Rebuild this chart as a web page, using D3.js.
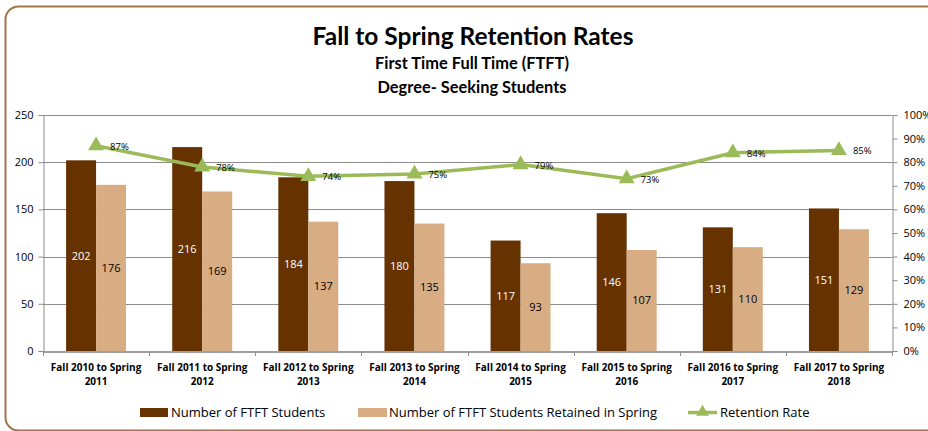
<!DOCTYPE html>
<html><head><meta charset="utf-8">
<script src="https://cdn.jsdelivr.net/npm/d3@7"></script>
<style>
html,body{margin:0;padding:0;background:#fff;}
svg{display:block;font-family:Lato,"Open Sans",sans-serif;}
</style></head>
<body><svg id="c" width="928" height="431"></svg>
<script>
const categories = ["Fall 2010 to Spring|2011","Fall 2011 to Spring|2012","Fall 2012 to Spring|2013","Fall 2013 to Spring|2014","Fall 2014 to Spring|2015","Fall 2015 to Spring|2016","Fall 2016 to Spring|2017","Fall 2017 to Spring|2018"];
const ftftStudents = [202,216,184,180,117,146,131,151];
const retainedStudents = [176,169,137,135,93,107,110,129];
const retentionRate = [0.87,0.78,0.74,0.75,0.79,0.73,0.84,0.85];
const leftTicks = [0,50,100,150,200,250];
const rightTicks = [0,0.1,0.2,0.3,0.4,0.5,0.6,0.7,0.8,0.9,1.0];
const seriesNames = ["Number of FTFT Students","Number of FTFT Students Retained in Spring","Retention Rate"];

const svg = d3.select("#c");
const L = 43, R = 892, T = 115, B = 351;
const dark = "#663300", light = "#D8AD84", green = "#9BBB59", grid = "#8c8c8c";

svg.append("rect").attr("x",5.5).attr("y",6.5).attr("width",1000).attr("height",424)
  .attr("rx",13).attr("fill","#fff").attr("stroke","#A5754A").attr("stroke-width",2);

// titles
svg.append("text").attr("x",473).attr("y",45).attr("text-anchor","middle")
  .attr("font-size",24.5).attr("font-weight","bold").attr("fill","#000").text("Fall to Spring Retention Rates");
svg.append("text").attr("x",472).attr("y",69).attr("text-anchor","middle")
  .attr("font-size",16.4).attr("font-weight","bold").text("First Time Full Time (FTFT)");
svg.append("text").attr("x",472).attr("y",93).attr("text-anchor","middle")
  .attr("font-size",16.4).attr("font-weight","bold").text("Degree- Seeking Students");

const x = d3.scaleBand().domain(categories).range([L,R]).paddingInner(0).paddingOuter(0);
const xs = d3.scaleBand().domain([0,1]).range([0,x.bandwidth()]).paddingInner(0).paddingOuter(0.77);
const y = d3.scaleLinear().domain([0,250]).range([B,T]);
const y2 = d3.scaleLinear().domain([0,1]).range([B,T]);

// gridlines
svg.append("g").selectAll("line").data(leftTicks.filter(d=>d>0)).join("line")
  .attr("x1",L).attr("x2",R).attr("y1",d=>Math.round(y(d))+0.5).attr("y2",d=>Math.round(y(d))+0.5)
  .attr("stroke",grid).attr("stroke-width",1.2);

// left axis
const gl = svg.append("g").attr("transform",`translate(${L+0.5},0)`)
  .call(d3.axisLeft(y).tickValues(leftTicks).tickSize(5).tickPadding(5));
gl.select(".domain").attr("stroke",grid);
gl.selectAll(".tick line").attr("stroke",grid);
gl.selectAll("text").attr("font-size",11).attr("fill","#000").attr("font-family","'Open Sans',sans-serif");

// right axis
const gr = svg.append("g").attr("transform",`translate(${R+0.5},0)`)
  .call(d3.axisRight(y2).tickValues(rightTicks).tickFormat(d3.format(".0%")).tickSize(5).tickPadding(6));
gr.select(".domain").attr("stroke",grid);
gr.selectAll(".tick line").attr("stroke",grid);
gr.selectAll("text").attr("font-size",11).attr("fill","#000").attr("font-family","'Open Sans',sans-serif");

// bars
const groups = svg.append("g").selectAll("g").data(categories).join("g")
  .attr("transform",d=>`translate(${x(d)},0)`);
groups.append("rect").attr("x",xs(0)).attr("width",xs.bandwidth())
  .attr("y",(d,i)=>y(ftftStudents[i])).attr("height",(d,i)=>B-y(ftftStudents[i])).attr("fill",dark);
groups.append("rect").attr("x",xs(1)).attr("width",xs.bandwidth())
  .attr("y",(d,i)=>y(retainedStudents[i])).attr("height",(d,i)=>B-y(retainedStudents[i])).attr("fill",light);
groups.append("text").attr("x",xs(0)+xs.bandwidth()/2).attr("y",(d,i)=>(y(ftftStudents[i])+B)/2+4)
  .attr("text-anchor","middle").attr("font-size",11).attr("fill","#fff").attr("font-family","'Open Sans',sans-serif")
  .text((d,i)=>ftftStudents[i]);
groups.append("text").attr("x",xs(1)+xs.bandwidth()/2).attr("y",(d,i)=>(y(retainedStudents[i])+B)/2+4)
  .attr("text-anchor","middle").attr("font-size",11).attr("fill","#000").attr("font-family","'Open Sans',sans-serif")
  .text((d,i)=>retainedStudents[i]);

// x axis
const gx = svg.append("g").attr("transform",`translate(0,${B+0.5})`)
  .call(d3.axisBottom(x).tickValues([]).tickSize(0));
gx.select(".domain").attr("stroke","#7f7f7f").attr("stroke-width",1.5);
const bounds = categories.map((d,i)=>x(d)).concat([R]);
svg.append("g").selectAll("line").data(bounds).join("line")
  .attr("x1",d=>Math.round(d)+0.5).attr("x2",d=>Math.round(d)+0.5).attr("y1",B).attr("y2",B+5).attr("stroke",grid);
const xl = svg.append("g").selectAll("text").data(categories).join("text")
  .attr("x",d=>x(d)+x.bandwidth()/2).attr("y",371).attr("text-anchor","middle")
  .attr("font-size",10).attr("font-weight","bold").attr("font-family","'Open Sans',sans-serif");
xl.append("tspan").attr("x",d=>x(d)+x.bandwidth()/2).text(d=>d.split("|")[0]);
xl.append("tspan").attr("x",d=>x(d)+x.bandwidth()/2).attr("dy",14).text(d=>d.split("|")[1]);

// line
const lineGen = d3.line().x((d,i)=>x(categories[i])+x.bandwidth()/2).y(d=>y2(d));
svg.append("path").datum(retentionRate).attr("d",lineGen).attr("fill","none")
  .attr("stroke",green).attr("stroke-width",3.5);
const tri = d3.symbol().type(d3.symbolTriangle).size(110);
svg.append("g").selectAll("path").data(retentionRate).join("path")
  .attr("transform",(d,i)=>`translate(${x(categories[i])+x.bandwidth()/2},${y2(d)})`)
  .attr("d",tri).attr("fill",green);
svg.append("g").selectAll("text").data(retentionRate).join("text")
  .attr("x",(d,i)=>x(categories[i])+x.bandwidth()/2+14).attr("y",d=>y2(d)+4)
  .attr("font-size",9.5).attr("fill","#000").attr("font-family","'Open Sans',sans-serif")
  .text(d=>d3.format(".0%")(d));

// legend
const lg = svg.append("g").attr("font-family","'Open Sans',sans-serif").attr("font-size",13);
lg.append("rect").attr("x",140).attr("y",408).attr("width",28).attr("height",9).attr("fill",dark);
lg.append("text").attr("x",171).attr("y",417).text(seriesNames[0]);
lg.append("rect").attr("x",358).attr("y",408).attr("width",29).attr("height",9).attr("fill",light);
lg.append("text").attr("x",389).attr("y",417).text(seriesNames[1]);
lg.append("line").attr("x1",688).attr("x2",717).attr("y1",412.5).attr("y2",412.5).attr("stroke",green).attr("stroke-width",3.5);
lg.append("path").attr("transform","translate(702.5,412)").attr("d",d3.symbol().type(d3.symbolTriangle).size(70)).attr("fill",green);
lg.append("text").attr("x",720).attr("y",417).text(seriesNames[2]);
</script></body></html>
